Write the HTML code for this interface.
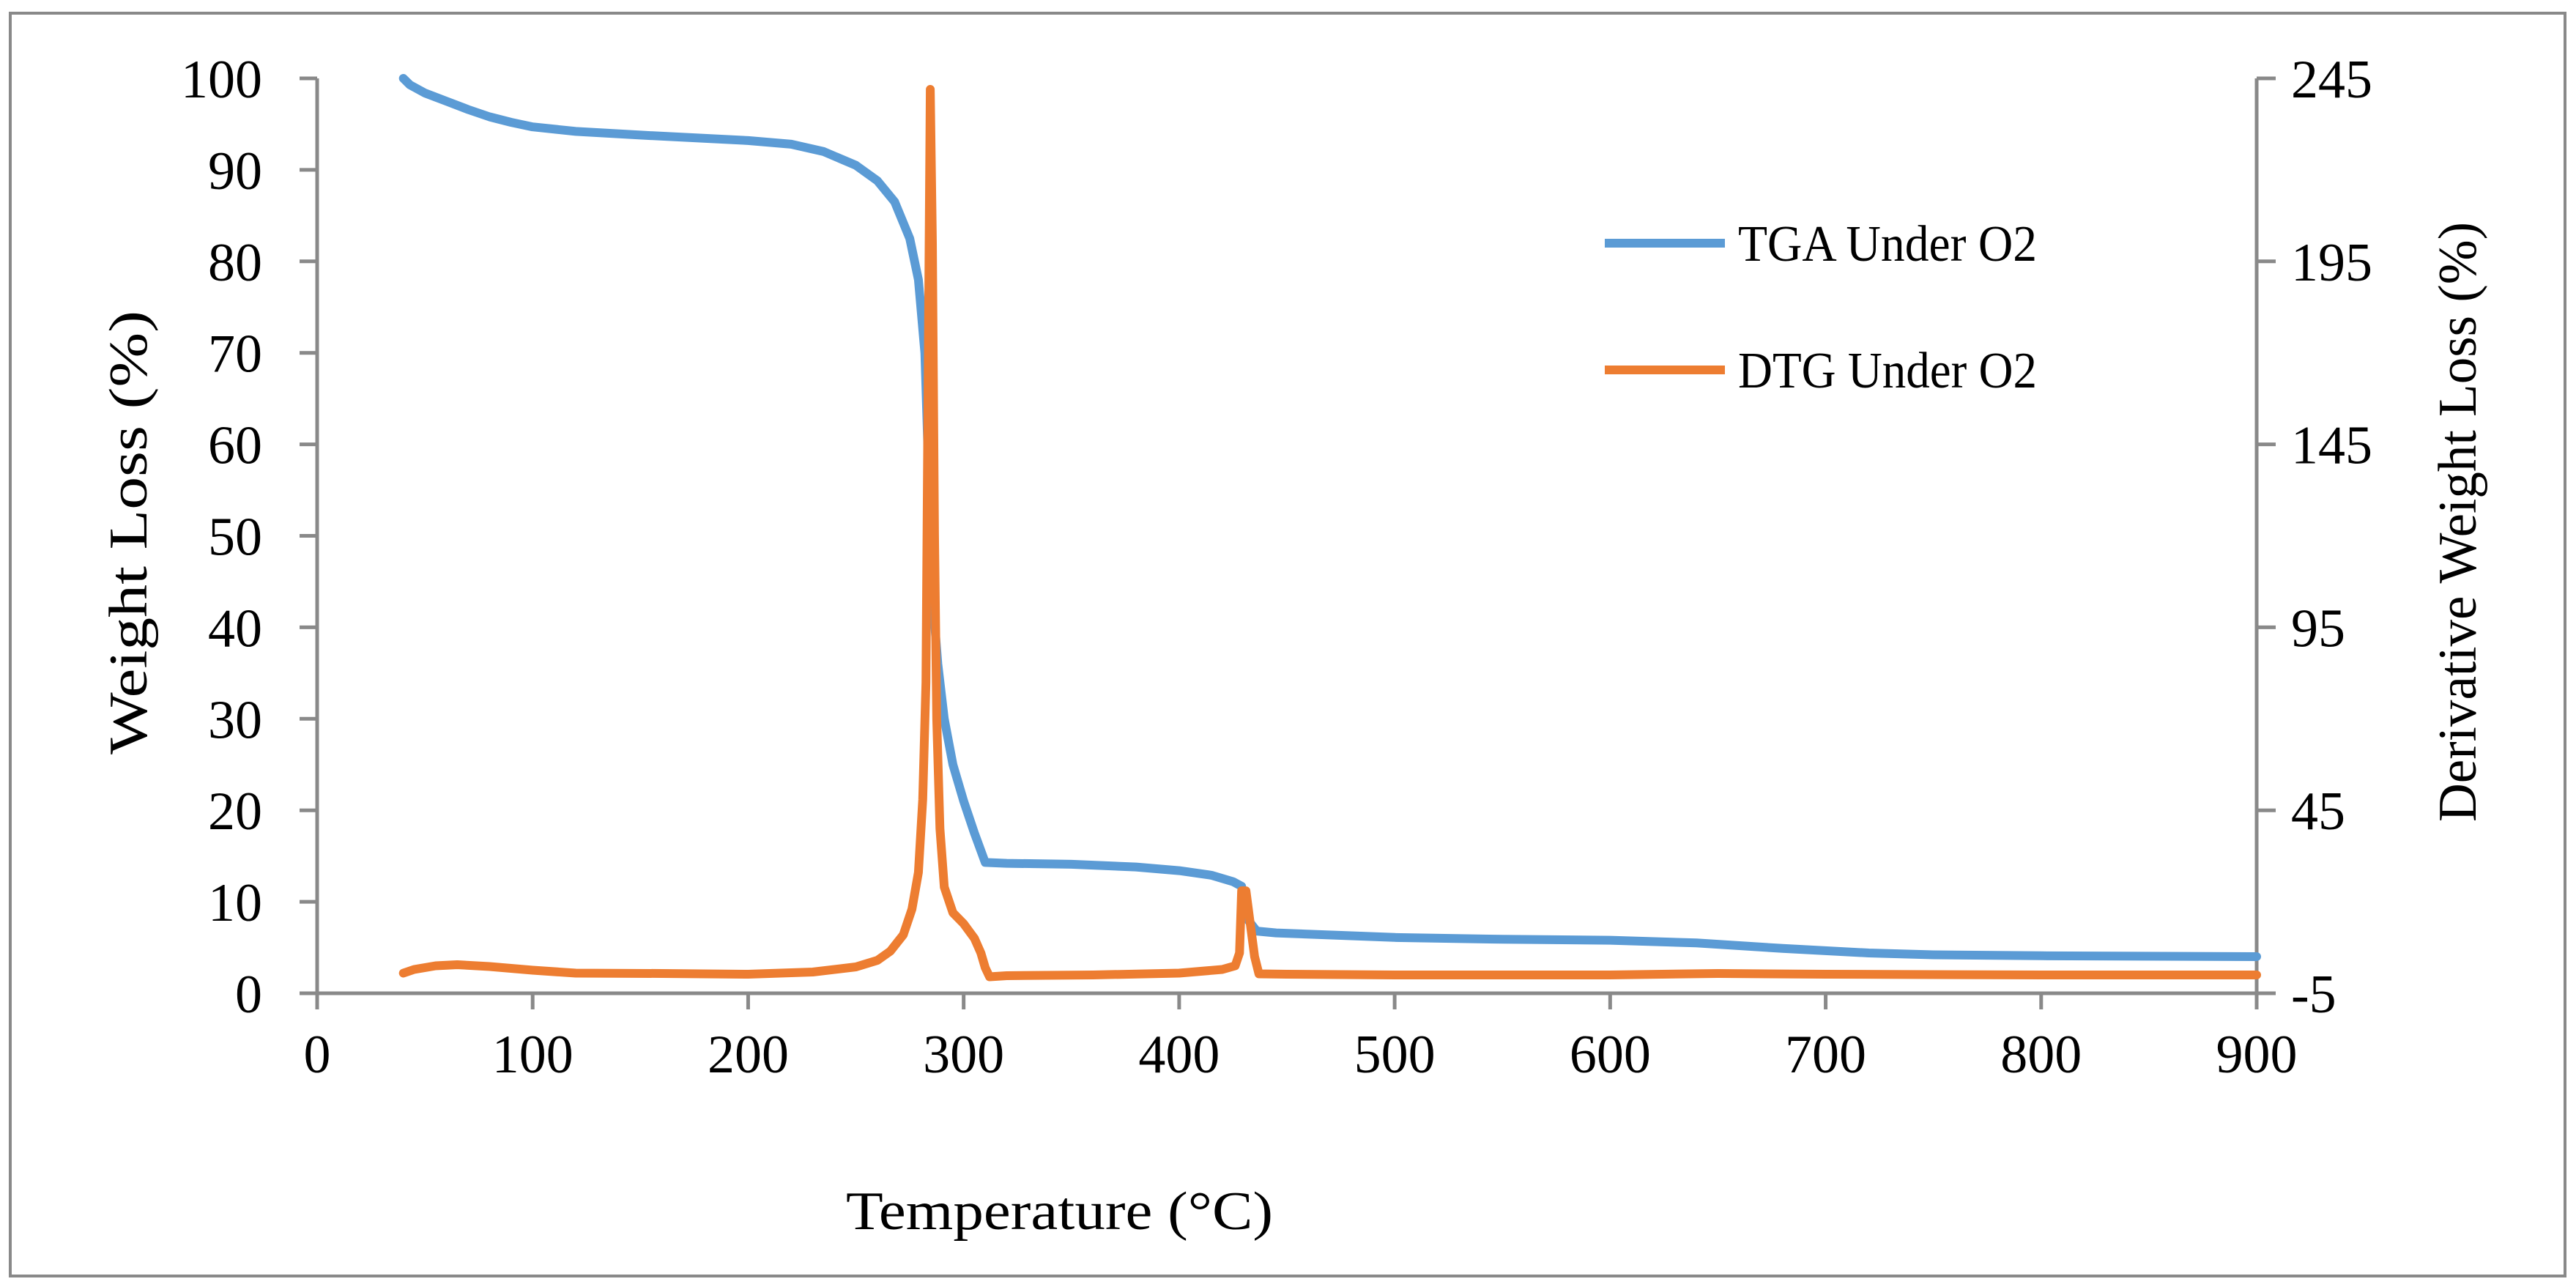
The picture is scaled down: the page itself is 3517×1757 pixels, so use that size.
<!DOCTYPE html>
<html><head><meta charset="utf-8"><style>
html,body{margin:0;padding:0;background:#fff}
svg{display:block}
text{font-family:"Liberation Serif",serif;fill:#000}
</style></head><body>
<svg id="chart" width="3517" height="1757" viewBox="0 0 3517 1757" xmlns="http://www.w3.org/2000/svg">
<rect x="14" y="18" width="3488" height="1724" fill="#fff" stroke="#898989" stroke-width="4"/>
<g id="axes"></g>
<g id="series"></g>
<g>
<line x1="2191" y1="332" x2="2355" y2="332" stroke="#5b9bd5" stroke-width="12"/>
<text x="2373" y="356" font-size="70" textLength="408" lengthAdjust="spacingAndGlyphs">TGA Under O2</text>
<line x1="2191" y1="505" x2="2355" y2="505" stroke="#ed7d31" stroke-width="12"/>
<text x="2373" y="529" font-size="70" textLength="408" lengthAdjust="spacingAndGlyphs">DTG Under O2</text>
</g>
<text x="1155" y="1678" font-size="74" textLength="583" lengthAdjust="spacingAndGlyphs">Temperature (°C)</text>
<text transform="translate(200,1030) rotate(-90)" font-size="74" textLength="606" lengthAdjust="spacingAndGlyphs">Weight Loss (%)</text>
<text transform="translate(3380,1122) rotate(-90)" font-size="74" textLength="819" lengthAdjust="spacingAndGlyphs">Derivative Weight Loss (%)</text>
</svg>
<script>
const xTicks=[0,100,200,300,400,500,600,700,800,900];
const yLeftTicks=[0,10,20,30,40,50,60,70,80,90,100];
const yRightTicks=[-5,45,95,145,195,245];
const tgaT=[40,43,50,60,70,80,90,100,120,150,200,220,235,250,260,268,275,279,282,284,286,288,291,295,300,305,310,320,350,380,400,415,425,429,432,436,445,500,550,600,640,680,720,750,800,900];
const tgaW=[100,99.3,98.4,97.5,96.6,95.8,95.2,94.7,94.2,93.8,93.2,92.8,92,90.5,88.8,86.5,82.5,78,70,55,42,36,30,25,21,17.5,14.3,14.2,14.1,13.8,13.4,12.9,12.2,11.7,8,6.8,6.6,6.1,5.9,5.8,5.5,4.9,4.4,4.2,4.1,4.0];
const dtgT=[40,45,55,65,80,100,120,160,200,230,250,260,266,272,276,279,281,282.5,283.5,284.5,285.5,286.5,287.5,289,291,295,300,305,308,310,312,320,360,400,420,426,428,429,431,433,435,437,450,500,600,650,700,800,900];
const dtgV=[0.5,1.5,2.5,2.8,2.3,1.3,0.5,0.4,0.2,0.8,2.2,4,6.5,11,18,28,48,80,160,242,200,120,70,40,24,17,14,10,6,2,-0.5,-0.2,0,0.5,1.5,2.5,6,23,23,14,5,0.3,0.2,0,0,0.4,0.2,0,0];
const X0=433,X1=3081,Y0=1356,Y1=107;
const xs=v=>X0+(v-0)/900*(X1-X0);
const yl=v=>Y0-(v-0)/100*(Y0-Y1);
const yr=v=>Y0-(v+5)/250*(Y0-Y1);
const NS="http://www.w3.org/2000/svg";
const axes=document.getElementById('axes'),series=document.getElementById('series');
function mk(tag,attrs,parent){const e=document.createElementNS(NS,tag);for(const k in attrs)e.setAttribute(k,attrs[k]);parent.appendChild(e);return e;}
const G="#898989";
let e;
e=mk('line',{x1:X0,y1:Y1,x2:X0,y2:Y0,stroke:G,'stroke-width':5},axes);


e=mk('line',{x1:X1,y1:Y1,x2:X1,y2:Y0+22,stroke:G,'stroke-width':5},axes);


e=mk('line',{x1:X0,y1:Y0,x2:X1+26,y2:Y0,stroke:G,'stroke-width':5},axes);


xTicks.forEach(v=>{
 e=mk('line',{x1:xs(v),y1:Y0,x2:xs(v),y2:Y0+22,stroke:G,'stroke-width':5},axes);
 
 
 e=mk('text',{x:xs(v),y:Y0+108,'font-size':74,'text-anchor':'middle'},axes);e.textContent=v;
 
 
});
yLeftTicks.forEach(v=>{
 e=mk('line',{x1:X0-24,y1:yl(v),x2:X0,y2:yl(v),stroke:G,'stroke-width':5},axes);
 
 
 e=mk('text',{x:358,y:yl(v)+26,'font-size':74,'text-anchor':'end'},axes);e.textContent=v;
 
 
});
yRightTicks.forEach(v=>{
 e=mk('line',{x1:X1,y1:yr(v),x2:X1+26,y2:yr(v),stroke:G,'stroke-width':5},axes);
 
 
 e=mk('text',{x:3128,y:yr(v)+26,'font-size':74,'text-anchor':'start'},axes);e.textContent=v;
 
 
});
function path(T,V,fy){return T.map((t,i)=>(i?'L':'M')+xs(t).toFixed(1)+' '+fy(V[i]).toFixed(1)).join(' ');}
e=mk('path',{d:path(tgaT,tgaW,yl),fill:'none',stroke:'#5b9bd5','stroke-width':12,'stroke-linejoin':'round','stroke-linecap':'round'},series);


e=mk('path',{d:path(dtgT,dtgV,yr),fill:'none',stroke:'#ed7d31','stroke-width':12,'stroke-linejoin':'round','stroke-linecap':'round'},series);


</script>
</body></html>
